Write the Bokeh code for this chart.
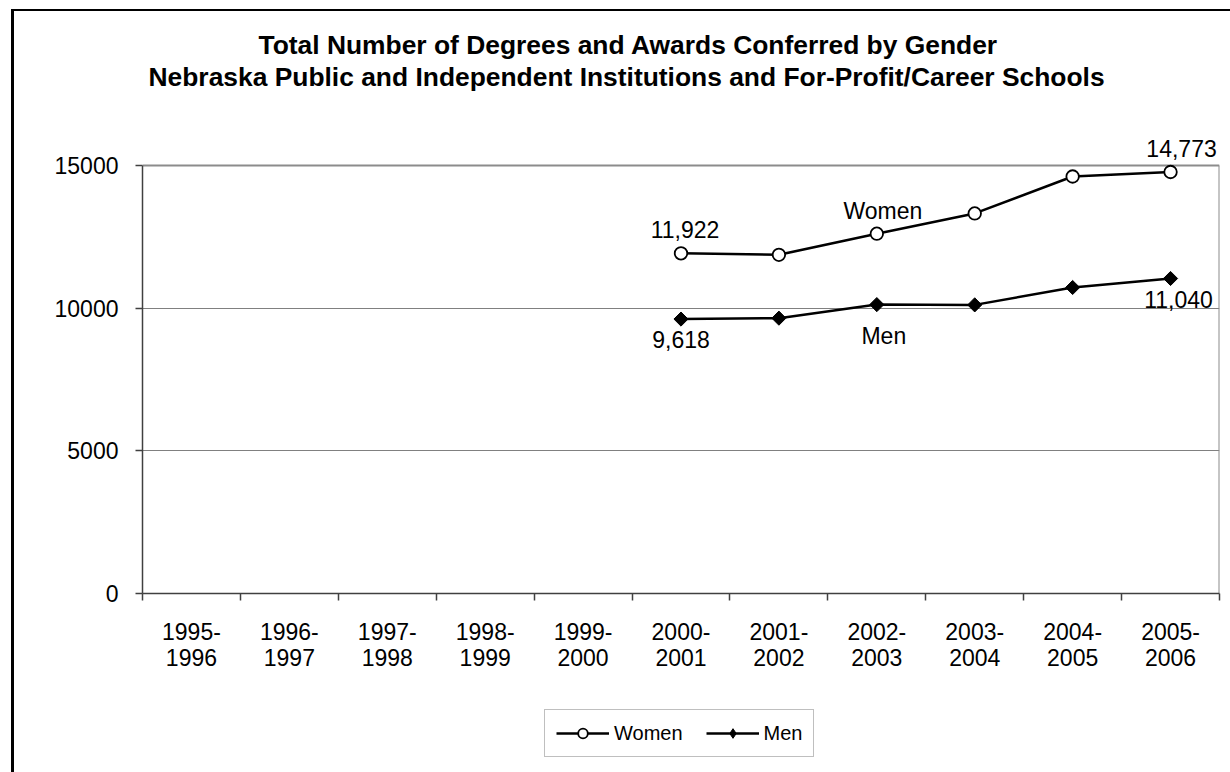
import math
from bokeh.plotting import figure
from bokeh.layouts import column
from bokeh.models import (Range1d, FixedTicker, Title, Legend, LegendItem, ColumnDataSource)
from bokeh.core.properties import value
from bokeh.embed import file_html
from bokeh.resources import INLINE

NaN = float("nan")

# ---------------- data ----------------
periods = ["1995-1996", "1996-1997", "1997-1998", "1998-1999", "1999-2000",
           "2000-2001", "2001-2002", "2002-2003", "2003-2004", "2004-2005", "2005-2006"]
women = [NaN, NaN, NaN, NaN, NaN, 11922, 11870, 12610, 13320, 14615, 14773]
men = [NaN, NaN, NaN, NaN, NaN, 9618, 9650, 10125, 10115, 10725, 11040]
y_ticks = [0, 5000, 10000, 15000]
title_line1 = "Total Number of Degrees and Awards Conferred by Gender"
title_line2 = "Nebraska Public and Independent Institutions and For-Profit/Career Schools"
series_names = ["Women", "Men"]

FONT = "Liberation Sans"

# ---------------- layout constants (pixels) ----------------
FRAME_TOP = 135          # drawing area starts a little above the 15000 line so the top label shows
AXIS_TOP = 165           # where 15000 sits
AXIS_BOTTOM = 593        # where 0 sits
y_max = y_ticks[-1]
y_view_top = y_max * (AXIS_BOTTOM - FRAME_TOP) / (AXIS_BOTTOM - AXIS_TOP)

xc = [i + 0.5 for i in range(len(periods))]
src = ColumnDataSource(dict(x=xc, women=women, men=men))

p = figure(width=1230, height=700,
           x_range=Range1d(0, len(periods)), y_range=Range1d(0, y_view_top),
           output_backend="svg", toolbar_location=None,
           min_border_left=142, min_border_right=11, min_border_bottom=700 - AXIS_BOTTOM,
           min_border_top=FRAME_TOP)
p.background_fill_alpha = 0
p.border_fill_alpha = 0
p.outline_line_color = None
# outer chart border (only its left and top edges fall inside the picture)
p.styles = {"background": "linear-gradient(#000,#000) 11px 9px / 3px 100% no-repeat, "
                          "linear-gradient(#000,#000) 11px 9px / 100% 2px no-repeat, #fff"}

# titles (first added is nearest the frame)
spacer_top = Title(text=" ", text_font_size="1px", standoff=71 - (AXIS_TOP - FRAME_TOP))
t2 = Title(text=title_line2, align="left", offset=6, standoff=0,
           text_font=FONT, text_font_size="26.4px", text_font_style="bold", text_color="black")
t1 = Title(text=title_line1, align="left", offset=116, standoff=0,
           text_font=FONT, text_font_size="26.4px", text_font_style="bold", text_color="black")
p.add_layout(spacer_top, "above")
p.add_layout(t2, "above")
p.add_layout(t1, "above")

# axes
xa = p.xaxis[0]
xa.ticker = FixedTicker(ticks=xc, minor_ticks=list(range(len(periods) + 1)))
xa.major_label_overrides = {x: lab.replace("-", "-\n") for x, lab in zip(xc, periods)}
xa.major_tick_line_color = None
xa.major_tick_out = 7
xa.major_tick_in = 0
xa.minor_tick_out = 7
xa.minor_tick_in = 0
xa.minor_tick_line_color = "#404040"
xa.minor_tick_line_width = 1.5
xa.axis_line_color = "#404040"
xa.axis_line_width = 1.5
xa.major_label_standoff = 18
xa.major_label_text_font = FONT
xa.major_label_text_font_size = "23px"
xa.major_label_text_line_height = 1.0
xa.major_label_text_color = "black"

ya = p.yaxis[0]
ya.ticker = FixedTicker(ticks=y_ticks)
ya.bounds = (y_ticks[0], y_max)
ya.major_tick_out = 7
ya.major_tick_in = 0
ya.minor_tick_line_color = None
ya.major_tick_line_color = "#404040"
ya.major_tick_line_width = 1.5
ya.axis_line_color = "#404040"
ya.axis_line_width = 1.5
ya.major_label_standoff = 17
ya.major_label_text_font = FONT
ya.major_label_text_font_size = "23px"
ya.major_label_text_color = "black"

p.xgrid.grid_line_color = None
p.ygrid.ticker = FixedTicker(ticks=y_ticks[:-1])
p.ygrid.grid_line_color = "#808080"
p.ygrid.grid_line_width = 1

# plot-area border: top edge at the axis maximum and right edge at the last category
x_end = len(periods)
p.segment(x0=[0, x_end], y0=[y_max, y_ticks[0]], x1=[x_end, x_end], y1=[y_max, y_max],
          line_color="#8c8c8c", line_width=2)

# series
p.line("x", "women", source=src, line_color="black", line_width=2.5)
p.scatter("x", "women", source=src, marker="circle", size=12.5,
          fill_color="white", line_color="black", line_width=1.8)
p.line("x", "men", source=src, line_color="black", line_width=2.5)
p.scatter("x", "men", source=src, marker="square", angle=math.pi / 4, size=10,
          fill_color="black", line_color="black", line_width=1)

# data labels (first and last values, series names)
valid = [i for i, v in enumerate(women) if not math.isnan(v)]
first, last = valid[0], valid[-1]
mid = valid[2]

def add_label(x, y, text, dx, dy):
    p.text(x=[x], y=[y], text=[text], x_offset=dx, y_offset=dy,
           text_align="center", text_baseline="alphabetic",
           text_font=value(FONT), text_font_size="23px", text_color="black")

add_label(xc[first], women[first], f"{women[first]:,}", 4, -24)
add_label(xc[last], women[last], f"{women[last]:,}", 11, -23)
add_label(xc[first], men[first], f"{men[first]:,}", 0, 20)
add_label(xc[last], men[last], f"{men[last]:,}", 8, 21)
add_label(xc[mid], women[mid], series_names[0], 6, -23)
add_label(xc[mid], men[mid], series_names[1], 7, 31)

# ---------------- legend strip below the chart ----------------
lf = figure(width=1230, height=72, x_range=Range1d(0, 1), y_range=Range1d(0, 1),
            output_backend="svg", toolbar_location=None, min_border=0,
            x_axis_location=None, y_axis_location=None)
lf.outline_line_color = None
lf.xgrid.visible = False
lf.ygrid.visible = False
lf.border_fill_alpha = 0
lf.background_fill_alpha = 0
lf.styles = {"background": "linear-gradient(#000,#000) 11px 0px / 3px 100% no-repeat, #fff"}

# series renderers for the legend (their values lie outside this strip's ranges)
lw_line = lf.line("x", "women", source=src, line_color="black", line_width=2.5)
lw_mark = lf.scatter("x", "women", source=src, marker="circle", size=12,
                     fill_color="white", line_color="black", line_width=1.8)
lm_line = lf.line("x", "men", source=src, line_color="black", line_width=2.5)
lm_mark = lf.scatter("x", "men", source=src, marker="diamond", size=14,
                     fill_color="black", line_color="black", line_width=1)

legend = Legend(items=[LegendItem(label=series_names[0], renderers=[lw_line, lw_mark]),
                       LegendItem(label=series_names[1], renderers=[lm_line, lm_mark])],
                orientation="horizontal", location=(402, 15),
                glyph_width=53, glyph_height=24, label_standoff=5, spacing=23,
                padding=11, margin=0,
                border_line_color="#808080", border_line_width=1,
                background_fill_color="white", background_fill_alpha=1,
                label_text_font=FONT, label_text_font_size="20px",
                label_text_color="black")
lf.add_layout(legend)

layout = column(p, lf, spacing=0)
open("out.html", "w").write(file_html(layout, INLINE))
